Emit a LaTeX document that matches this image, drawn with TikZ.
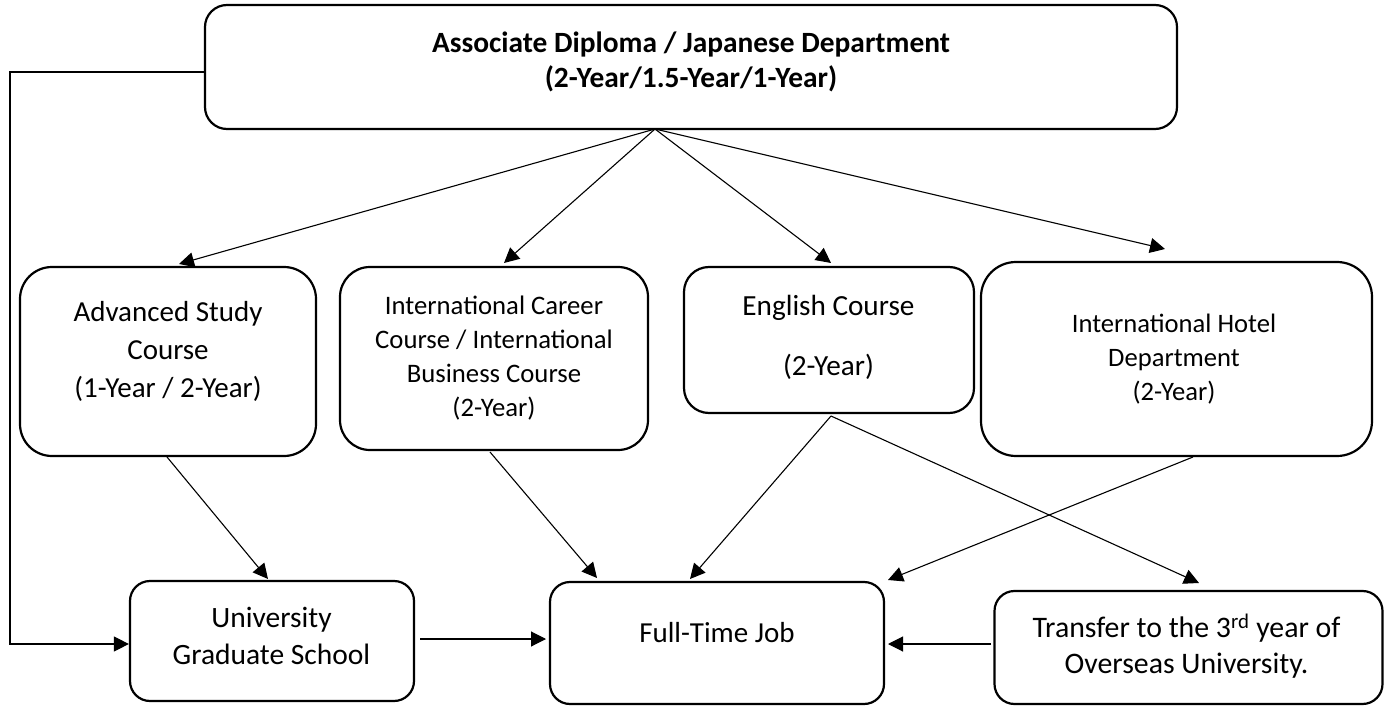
\documentclass[tikz,border=0pt]{standalone}
\usepackage{fontspec}
\setmainfont{Carlito}
\usetikzlibrary{arrows.meta}
\begin{document}
\begin{tikzpicture}[x=1pt,y=-1pt,
  box/.style={draw, line width=2.2pt, rounded corners=#1, inner sep=0pt},
  box/.default=20pt,
  txt/.style={align=center, inner sep=0pt},
  arr/.style={line width=1.1pt, -{Triangle[length=15pt,width=15pt]}}]
\useasboundingbox (0,0) rectangle (1385,706);

% boxes
\node[box=22pt, minimum width=972pt, minimum height=124pt] (top) at (691,67) {};
\node[box=32pt, minimum width=296pt, minimum height=189pt] (adv) at (168,361.5) {};
\node[box=30pt, minimum width=308pt, minimum height=183pt] (car) at (494,358.5) {};
\node[box=25pt, minimum width=290pt, minimum height=146pt] (eng) at (829,340) {};
\node[box=35pt, minimum width=391pt, minimum height=194pt] (hot) at (1176.5,359) {};
\node[box=20pt, minimum width=284pt, minimum height=120pt] (univ) at (272,641) {};
\node[box=20pt, minimum width=334pt, minimum height=122pt] (full) at (717,643) {};
\node[box=20pt, minimum width=388pt, minimum height=113pt] (trans) at (1188.5,647.5) {};

% texts
\node[txt, font=\fontsize{29.4}{35}\selectfont\bfseries] (topT) at (691,62)
  {Associate Diploma / Japanese Department\\(2-Year/1.5-Year/1-Year)};
\node[txt, font=\fontsize{29}{38}\selectfont] (advT) at (168,351)
  {Advanced Study\\Course\\(1-Year / 2-Year)};
\node[txt, font=\fontsize{26.7}{34}\selectfont] (carT) at (494,358)
  {International Career\\Course / International\\Business Course\\(2-Year)};
\node[txt, font=\fontsize{29.2}{60}\selectfont] (engT) at (828.5,337)
  {English Course\\(2-Year)};
\node[txt, font=\fontsize{26.6}{34}\selectfont] (hotT) at (1174,359)
  {International Hotel\\Department\\(2-Year)};
\node[txt, font=\fontsize{29.5}{37}\selectfont] (univT) at (271.5,635.5)
  {University\\Graduate School};
\node[txt, font=\fontsize{29}{37}\selectfont] (fullT) at (717,633)
  {Full-Time Job};
\node[txt, font=\fontsize{29.8}{36}\selectfont] (transT) at (1186.5,646)
  {Transfer to the 3\textsuperscript{rd} year of\\Overseas University.};

% connector ends
\coordinate (topout) at (655,129);
\coordinate (advin) at (179,264);
\coordinate (carin) at (504,263);
\coordinate (engin) at (831,263);
\coordinate (hotin) at (1165,249);
\coordinate (lc) at (10,72);
\coordinate (advout) at (167,457);
\coordinate (univin) at (268,579);
\coordinate (carout) at (490,452);
\coordinate (fullin1) at (597,578);
\coordinate (univout) at (420,639);
\coordinate (fullin2) at (546,639);
\coordinate (engout) at (831,416);
\coordinate (fullin3) at (690,579);
\coordinate (transin) at (1199,583);
\coordinate (hotout) at (1193,457);
\coordinate (fullin4) at (888,580);
\coordinate (transout) at (991,644);
\coordinate (fullin5) at (888,644);

% connectors
\draw[arr] (topout) -- (advin);
\draw[arr] (topout) -- (carin);
\draw[arr] (topout) -- (engin);
\draw[arr] (topout) -- (hotin);
\draw[arr] ([yshift=-5pt]top.west) -- (lc) |- ([yshift=-3pt]univ.west);
\draw[arr] (advout) -- (univin);
\draw[arr] (carout) -- (fullin1);
\draw[arr] (univout) -- (fullin2);
\draw[arr] (engout) -- (fullin3);
\draw[arr] (engout) -- (transin);
\draw[arr] (hotout) -- (fullin4);
\draw[arr] (transout) -- (fullin5);
\end{tikzpicture}
\end{document}
